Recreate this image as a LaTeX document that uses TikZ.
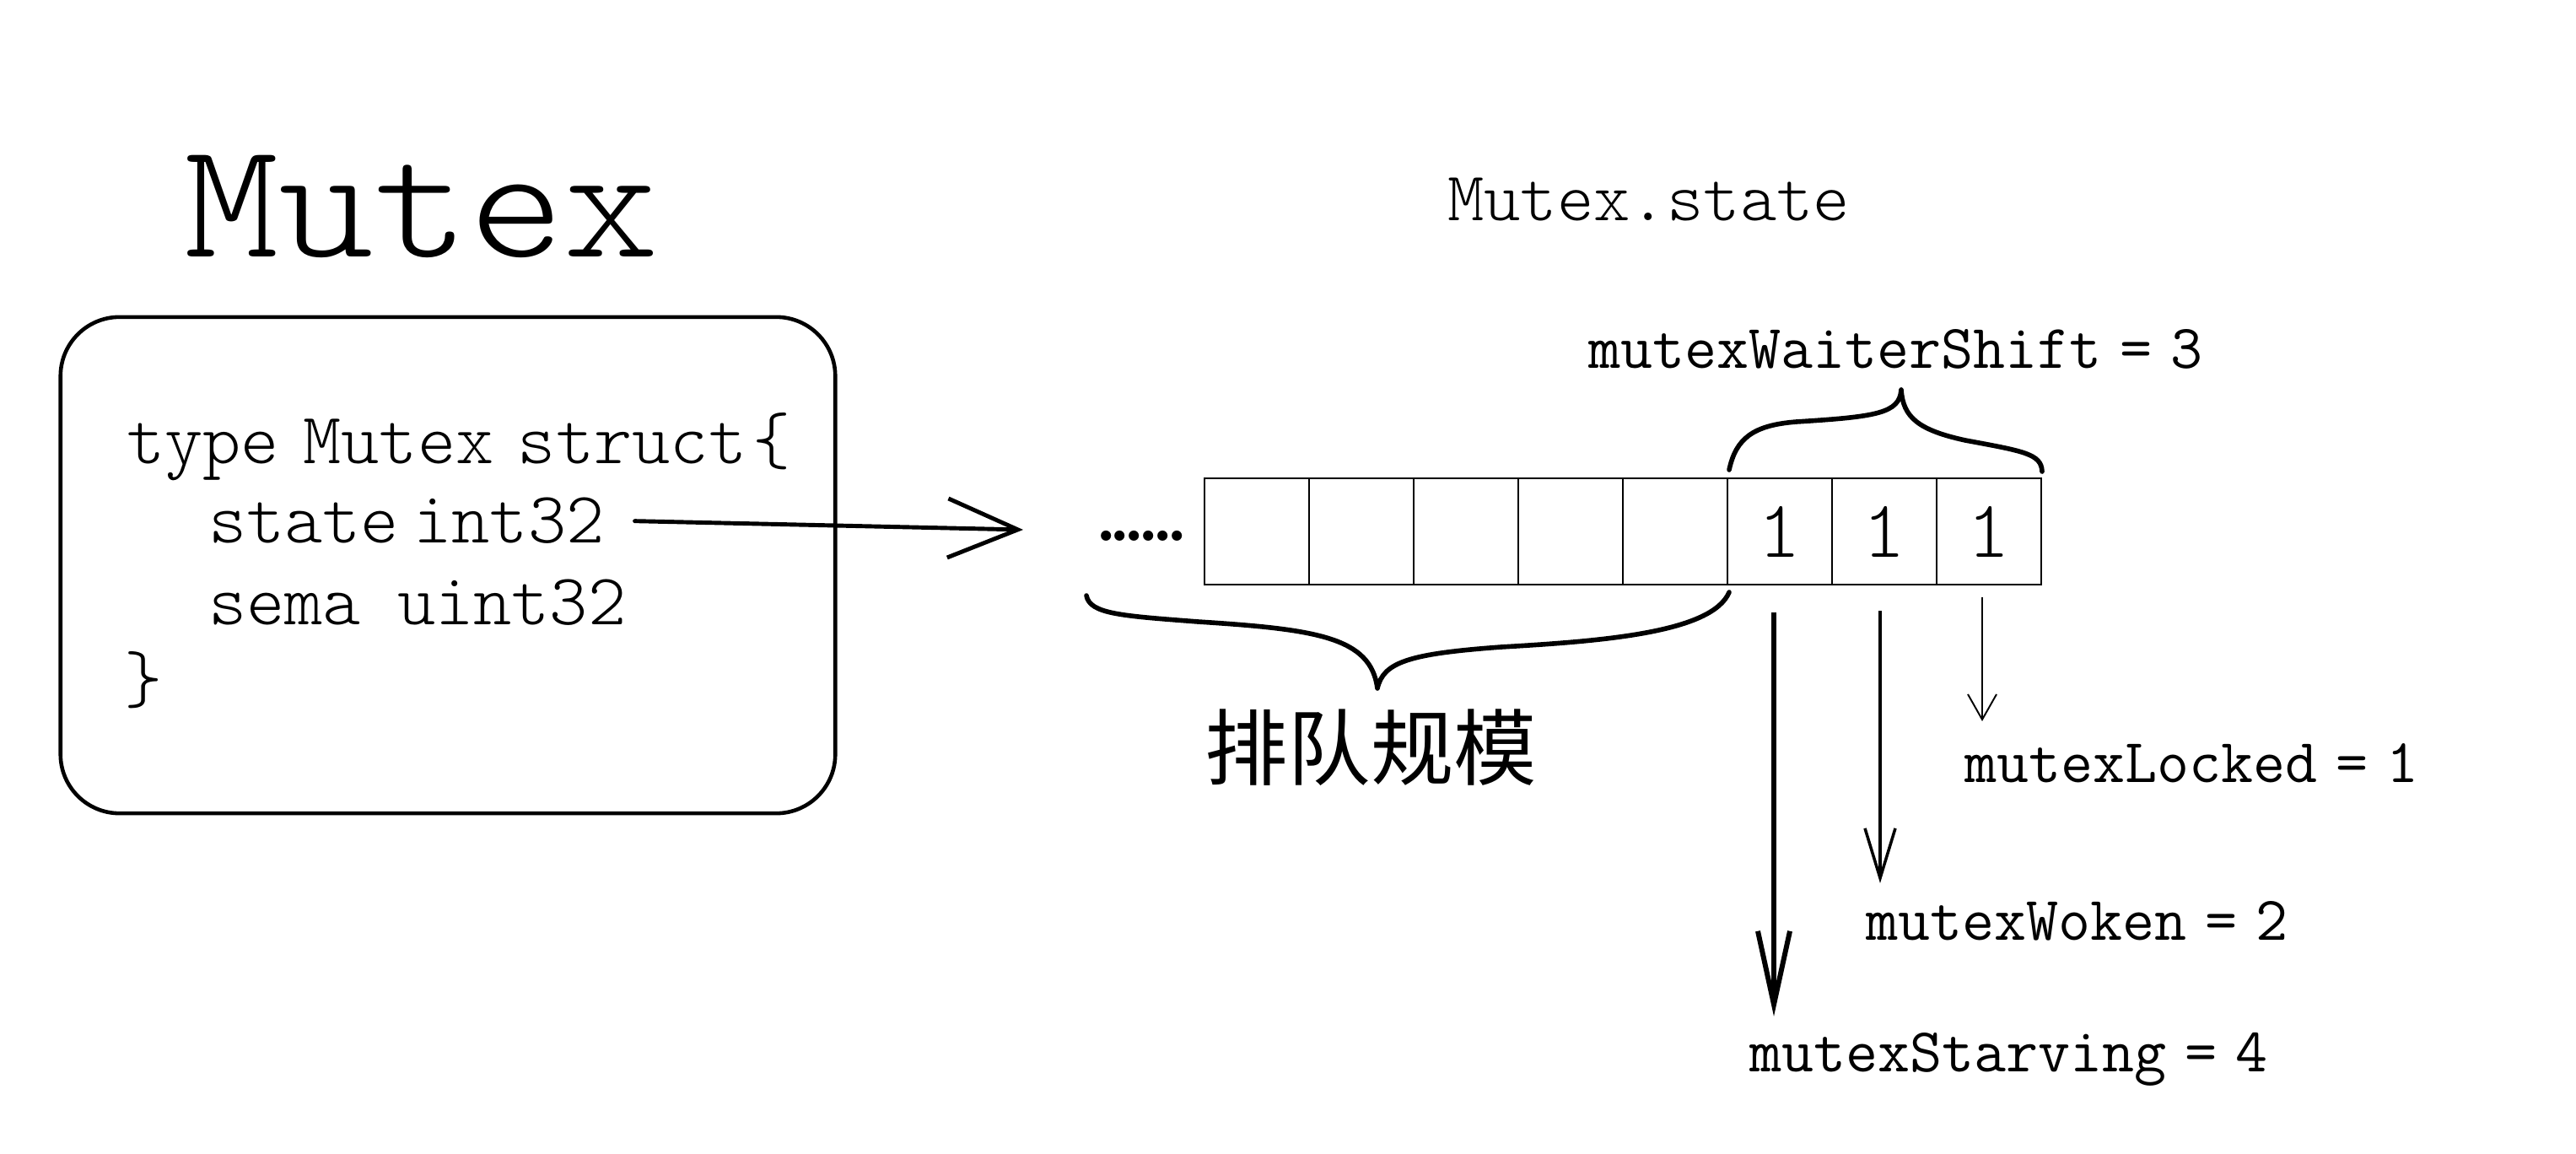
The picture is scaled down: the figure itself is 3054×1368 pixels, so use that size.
\documentclass[tikz,border=0pt]{standalone}
\usepackage{fontspec}
\usepackage{graphicx}
\usetikzlibrary{arrows.meta,calc}
\newfontfamily\cjkfont{Noto Sans CJK SC}
\newfontfamily\lmlight{Latin Modern Mono Light}
\newcommand\wgap[1]{\hskip#1em\relax}

\begin{document}
\begin{tikzpicture}[x=0.01cm,y=-0.01cm,
  txt/.style={inner sep=0pt,outer sep=0pt},
  code/.style={txt,anchor=base west,font=\fontsize{24.5}{29}\selectfont\lmlight},
  lbl/.style={txt,anchor=base west,font=\fontsize{21}{25}\selectfont\ttfamily},
  cellbox/.style={draw,line width=0.8pt,minimum width=1.24cm,minimum height=1.26cm,inner sep=0pt,
    font=\fontsize{27.5}{33}\selectfont\lmlight},
  bracestroke/.style={line width=1.6pt,line cap=round,line join=round},
]
\useasboundingbox (0,0) rectangle (3054,1368);
\fill[white] (0,0) rectangle (3054,1368);

% title
\node[txt,anchor=base west,font=\fontsize{56}{60}\selectfont\lmlight] (title) at (218,305) {\scalebox{1.09}[1]{Mutex}};

% struct box
\node[draw,rounded corners=0.7cm,line width=1.3pt,minimum width=9.18cm,minimum height=5.88cm,inner sep=0pt] (box) at (531,670) {};
\node[code] (l1) at (150,550) {type\wgap{0.33}Mutex\wgap{0.33}struct\wgap{0.08}\{};
\node[code] (l2) at (247,644) {state\wgap{0.2}int32};
\node[code] (l3) at (247,741) {sema\wgap{0.5}uint32};
\node[code] (l4) at (147,833) {\}};

% arrow to state bits
\coordinate (aend) at (1213,628);
\draw[line width=1.4pt,line cap=round,-{Straight Barb[length=0.83cm,width=0.7cm]}] ([xshift=0.36cm]l2.east) -- (aend);

% dots
\node[txt,anchor=base west,font=\fontsize{24}{28}\selectfont\bfseries] (dots) at (1298,642)
  {.\kern-2.7pt.\kern-2.7pt.\kern-2.7pt.\kern-2.7pt.\kern-2.7pt.};

% bit cells
\foreach \i in {1,...,5} \node[cellbox] (c\i) at ({1428+124*(\i-0.5)},630) {};
\foreach \i in {6,7,8} \node[cellbox] (c\i) at ({1428+124*(\i-0.5)},630) {\raisebox{-0.1cm}{1}};

% labels
\node[txt,anchor=base west,font=\fontsize{23.5}{28}\selectfont\lmlight] (statelbl) at (1716,262) {Mutex.state};
\node[lbl] (shiftlbl) at (1883,437) {mutexWaiterShift\wgap{0.3}=\wgap{0.3}3};
\node[lbl] (locked) at (2329,928) {mutexLocked\wgap{0.3}=\wgap{0.3}1};
\node[lbl] (woken) at (2212,1115) {mutexWoken\wgap{0.3}=\wgap{0.3}2};
\node[lbl] (starving) at (2074,1271) {mutexStarving\wgap{0.3}=\wgap{0.3}4};
\node[txt,font=\fontsize{28}{32}\selectfont\cjkfont] (queue) at (1625,886) {排队规模};

% top brace
\draw[bracestroke] (2050,557) .. controls (2058,520) and (2078,504) .. (2130,500)
  .. controls (2225,494) and (2252,490) .. (2254,462)
  .. controls (2256,495) and (2275,510) .. (2330,522)
  .. controls (2400,535) and (2420,538) .. (2421,559);

% bottom brace
\draw[bracestroke] (1288,706) .. controls (1292,728) and (1330,730) .. (1420,737)
  .. controls (1560,746) and (1625,755) .. (1633,816)
  .. controls (1640,785) and (1670,775) .. (1780,767)
  .. controls (1900,760) and (2030,750) .. (2050,702);

% bit arrows
\coordinate (s6) at ([xshift=-0.07cm,yshift=-0.32cm]c6.south);
\coordinate (s7) at ([xshift=-0.05cm,yshift=-0.30cm]c7.south);
\coordinate (s8) at ([xshift=-0.08cm,yshift=-0.14cm]c8.south);
\draw[line width=1.7pt,-{Straight Barb[length=0.87cm,width=0.38cm]}] (s6) -- ($(s6 |- starving.north)+(0,0.2cm)$);
\draw[line width=1pt,-{Straight Barb[length=0.59cm,width=0.36cm]}] (s7) -- ($(s7 |- woken.north)+(0,0.22cm)$);
\draw[line width=0.55pt,-{Straight Barb[length=0.3cm,width=0.34cm]}] (s8) -- ($(s8 |- locked.north)+(0,0.27cm)$);
\end{tikzpicture}
\end{document}
